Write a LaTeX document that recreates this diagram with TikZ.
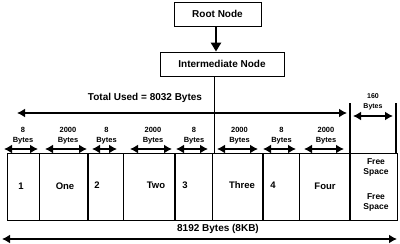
\documentclass[tikz,border=0pt]{standalone}
\usepackage{fontspec}
\setmainfont{Liberation Sans}
\usetikzlibrary{arrows.meta}
\tikzset{
  boxnode/.style={draw, line width=0.8pt, inner sep=0pt, font=\bfseries\fontsize{10}{12}\selectfont},
  dbl/.style={line width=2.4pt, {Latex[length=8pt,width=9pt]}-{Latex[length=8pt,width=9pt]}},
  sizelbl/.style={align=center, inner sep=0pt, font=\bfseries\fontsize{7.5}{10}\selectfont},
  celllbl/.style={inner sep=0pt, font=\bfseries\fontsize{9.5}{11}\selectfont},
  thindiv/.style={line width=0.6pt},
  thickdiv/.style={line width=1.8pt},
}
\begin{document}
\begin{tikzpicture}[x=1pt,y=-1pt]
\useasboundingbox (0,0) rectangle (400,244);
% boxes
\node[boxnode, minimum width=87pt, minimum height=24pt] (root) at (217.5,14) {Root Node};
\node[boxnode, minimum width=124pt, minimum height=24pt] (inter) at (222,64) {Intermediate Node};
\draw[line width=2.6pt, -{Triangle[length=9pt,width=10pt]}] (root.south -| 216,0) -- (inter.north -| 216,0);
% table
\coordinate (tl) at (7,153);
\coordinate (br) at (397,220);
\draw[line width=0.8pt] (tl) rectangle (br);
\foreach \x in {39,123,212,299} \draw[thindiv] (\x,153) -- (\x,220);
\foreach \x in {88,175,263} \draw[thickdiv] (\x,153) -- (\x,220);
% vertical from intermediate
\coordinate (v) at (214.5,153);
\draw[line width=1.6pt] (inter.south -| v) -- (v);
% bars around free space
\coordinate (b1t) at (350,103);
\coordinate (b1b) at (350,220);
\coordinate (b2t) at (396,103);
\coordinate (b2b) at (396,153);
\draw[thickdiv] (b1t) -- (b1b);
\draw[line width=1.4pt] (b2t) -- (b2b);
% total used
\coordinate (tu1) at (17,113);
\coordinate (tu2) at (347,113);
\draw[dbl, line width=2.2pt] (tu1) -- (tu2);
\node[inner sep=0pt, font=\bfseries\fontsize{10}{11}\selectfont] (tutxt) at (145,98) {Total Used = 8032 Bytes};
% 160 bytes
\coordinate (f1) at (353,116);
\coordinate (f2) at (393,116);
\draw[dbl, line width=2.2pt] (f1) -- (f2);
\node[sizelbl, font=\bfseries\fontsize{7}{10}\selectfont] (ftxt) at (373,102) {160\\Bytes};
% small arrows
\foreach \a/\b/\t [count=\i] in {4/38/8, 45/87/2000, 92/117/8, 130/172/2000, 176/208/8, 217/258/2000, 263/296/8, 304/344/2000}{
  \coordinate (s\i a) at (\a,149);
  \coordinate (s\i b) at (\b,149);
  \draw[dbl] (s\i a) -- (s\i b);
  \node[sizelbl] (l\i) at ({(\a+\b)/2+2},135.5) {\t\\Bytes};
}
% cell labels
\node[celllbl] (c1) at (21,186) {1};
\node[celllbl] (c2) at (65,186) {One};
\node[celllbl] (c3) at (97,185) {2};
\node[celllbl] (c4) at (156,185) {Two};
\node[celllbl] (c5) at (185,185) {3};
\node[celllbl] (c6) at (242,185) {Three};
\node[celllbl] (c7) at (273,185) {4};
\node[celllbl] (c8) at (325,186) {Four};
\node[sizelbl, font=\bfseries\fontsize{8.5}{10.5}\selectfont] (fs1) at (376,167.5) {Free\\Space};
\node[sizelbl, font=\bfseries\fontsize{8.5}{10.5}\selectfont] (fs2) at (376,202.5) {Free\\Space};
% bottom
\coordinate (bt1) at (2,239);
\coordinate (bt2) at (397,239);
\draw[dbl, line width=2.2pt] (bt1) -- (bt2);
\node[inner sep=0pt, font=\bfseries\fontsize{10}{11}\selectfont] (btxt) at (218,229) {8192 Bytes (8KB)};
\end{tikzpicture}
\end{document}
